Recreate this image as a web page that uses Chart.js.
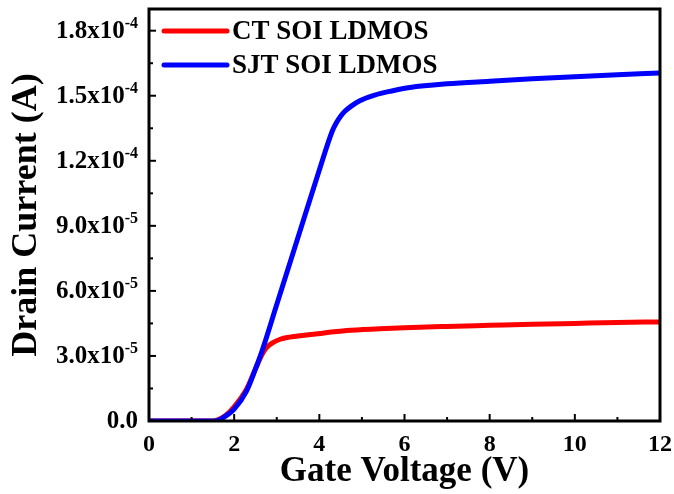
<!DOCTYPE html>
<html>
<head>
<meta charset="utf-8">
<script src="https://cdn.jsdelivr.net/npm/chart.js@4.4.1/dist/chart.umd.min.js"></script>
<style>
  html, body { margin: 0; padding: 0; background: #fff; }
  canvas { display: block; }
</style>
</head>
<body>
<canvas id="ivChart" width="674" height="494"></canvas>
<script>
// Transfer curves (Vg in V, Id in A)
const ctVolts   = [0, 1, 1.5, 1.6, 1.8, 2.0, 2.3, 2.5, 2.65, 2.76, 2.9, 3.08, 3.5, 3.86, 4.64, 5.42, 6, 7, 8, 9, 10, 11, 12];
const ctCurrent = [0, 0, 0, 0.4e-6, 2.5e-6, 6.5e-6, 1.5e-5, 2.4e-5, 3.05e-5, 3.38e-5, 3.6e-5, 3.77e-5, 3.92e-5, 4.0e-5, 4.17e-5, 4.25e-5, 4.30e-5, 4.36e-5, 4.41e-5, 4.46e-5, 4.50e-5, 4.54e-5, 4.57e-5];

const sjtVolts   = [0, 1, 1.5, 1.6, 1.74, 2.0, 2.29, 2.5, 2.65, 3.0, 3.5, 4.0, 4.3, 4.4, 4.5, 4.6, 4.75, 4.95, 5.3, 5.7, 6.13, 7, 8, 9, 10, 11, 12];
const sjtCurrent = [0, 0, 0, 0.2e-6, 1.5e-6, 5.5e-6, 1.38e-5, 2.4e-5, 3.2e-5, 5.37e-5, 8.47e-5, 1.157e-4, 1.335e-4, 1.375e-4, 1.405e-4, 1.428e-4, 1.452e-4, 1.477e-4, 1.503e-4, 1.522e-4, 1.538e-4, 1.555e-4, 1.567e-4, 1.578e-4, 1.588e-4, 1.597e-4, 1.605e-4];

const seriesNames  = ['CT SOI LDMOS', 'SJT SOI LDMOS'];
const seriesColors = ['#ff0000', '#0000ff'];

const xTicks = [0, 2, 4, 6, 8, 10, 12];
const yTicks = [0, 3e-5, 6e-5, 9e-5, 1.2e-4, 1.5e-4, 1.8e-4];

const FONT = '"Liberation Serif", "Times New Roman", serif';

function toPoints(xs, ys) {
    return xs.map((x, i) => ({ x: x, y: ys[i] }));
}

// y labels like 1.8x10^-4, drawn with a real superscript
function splitSci(v) {
    if (v === 0) return { base: '0.0', exp: '' };
    const e = Math.floor(Math.log10(v) + 1e-9);
    const m = v / Math.pow(10, e);
    return { base: m.toFixed(1) + 'x10', exp: String(e) };
}

/**
 * Frame, inward ticks, y tick labels and the inset legend
 */
const framePlugin = {
    id: 'frame',
    afterDatasetsDraw(chart) {
        const { ctx, chartArea: a, scales } = chart;
        const xs = scales.x, ys = scales.y;
        ctx.save();
        ctx.strokeStyle = '#000';
        ctx.lineWidth = 2;

        // x ticks (major + minor) pointing up
        xTicks.forEach((v, i) => {
            const px = xs.getPixelForValue(v);
            ctx.beginPath(); ctx.moveTo(px, a.bottom); ctx.lineTo(px, a.bottom - 7); ctx.stroke();
            if (i < xTicks.length - 1) {
                const mx = xs.getPixelForValue((v + xTicks[i + 1]) / 2);
                ctx.beginPath(); ctx.moveTo(mx, a.bottom); ctx.lineTo(mx, a.bottom - 4); ctx.stroke();
            }
        });
        // y ticks pointing right
        yTicks.forEach((v, i) => {
            const py = ys.getPixelForValue(v);
            ctx.beginPath(); ctx.moveTo(a.left, py); ctx.lineTo(a.left + 7, py); ctx.stroke();
            const next = i < yTicks.length - 1 ? yTicks[i + 1] : v + 3e-5;
            const mv = (v + next) / 2;
            if (mv < ys.max) {
                const my = ys.getPixelForValue(mv);
                ctx.beginPath(); ctx.moveTo(a.left, my); ctx.lineTo(a.left + 4, my); ctx.stroke();
            }
        });

        ctx.lineWidth = 3;
        ctx.strokeRect(a.left, a.top, a.right - a.left, a.bottom - a.top);

        // y tick labels
        ctx.fillStyle = '#000';
        ctx.textBaseline = 'middle';
        yTicks.forEach(v => {
            const py = ys.getPixelForValue(v);
            const lab = splitSci(v);
            const right = a.left - 11;
            ctx.font = 'bold 16px ' + FONT;
            const ew = lab.exp ? ctx.measureText(lab.exp).width : 0;
            ctx.textAlign = 'right';
            if (lab.exp) ctx.fillText(lab.exp, right, py - 7);
            ctx.font = 'bold 25px ' + FONT;
            ctx.fillText(lab.base, right - ew, py + 1);
        });

        // legend inside the plot
        chart.data.datasets.forEach((ds, i) => {
            const ly = 31 + i * 34;
            ctx.strokeStyle = ds.borderColor;
            ctx.lineWidth = 5;
            ctx.lineCap = 'round';
            ctx.beginPath(); ctx.moveTo(a.left + 15, ly); ctx.lineTo(a.left + 78, ly); ctx.stroke();
            ctx.fillStyle = '#000';
            ctx.textAlign = 'left';
            ctx.font = 'bold 27px ' + FONT;
            ctx.fillText(ds.label, a.left + 83, ly + 1);
        });
        ctx.restore();
    }
};

new Chart(document.getElementById('ivChart'), {
    type: 'line',
    data: {
        datasets: [
            {
                label: seriesNames[0],
                data: toPoints(ctVolts, ctCurrent),
                borderColor: seriesColors[0],
                order: 2
            },
            {
                label: seriesNames[1],
                data: toPoints(sjtVolts, sjtCurrent),
                borderColor: seriesColors[1],
                order: 1
            }
        ]
    },
    options: {
        responsive: false,
        animation: false,
        devicePixelRatio: 1,
        layout: { padding: { top: 9, right: 14, left: 0, bottom: 0 } },
        plugins: { legend: { display: false }, tooltip: { enabled: false } },
        elements: {
            point: { radius: 0 },
            line: { borderWidth: 5, cubicInterpolationMode: 'monotone', borderCapStyle: 'round', borderJoinStyle: 'round', fill: false }
        },
        scales: {
            x: {
                type: 'linear', min: 0, max: 12,
                grid: { display: false, drawTicks: false },
                border: { display: false },
                ticks: { stepSize: 2, padding: 9, color: '#000', font: { family: FONT, weight: 'bold', size: 24 } },
                title: { display: true, text: 'Gate Voltage (V)', color: '#000', font: { family: FONT, weight: 'bold', size: 35 }, padding: { top: 0, bottom: 1 } },
                afterFit: s => { s.height = 73; s.paddingLeft = 0; s.paddingRight = 0; }
            },
            y: {
                type: 'linear', min: 0, max: 1.9e-4,
                grid: { display: false, drawTicks: false },
                border: { display: false },
                ticks: { display: false, stepSize: 3e-5 },
                title: { display: true, text: 'Drain Current (A)', color: '#000', font: { family: FONT, weight: 'bold', size: 36 }, padding: { top: 5, bottom: 0 } },
                afterFit: s => { s.width = 149; s.paddingTop = 0; s.paddingBottom = 0; }
            }
        }
    },
    plugins: [framePlugin]
});
</script>
</body>
</html>
